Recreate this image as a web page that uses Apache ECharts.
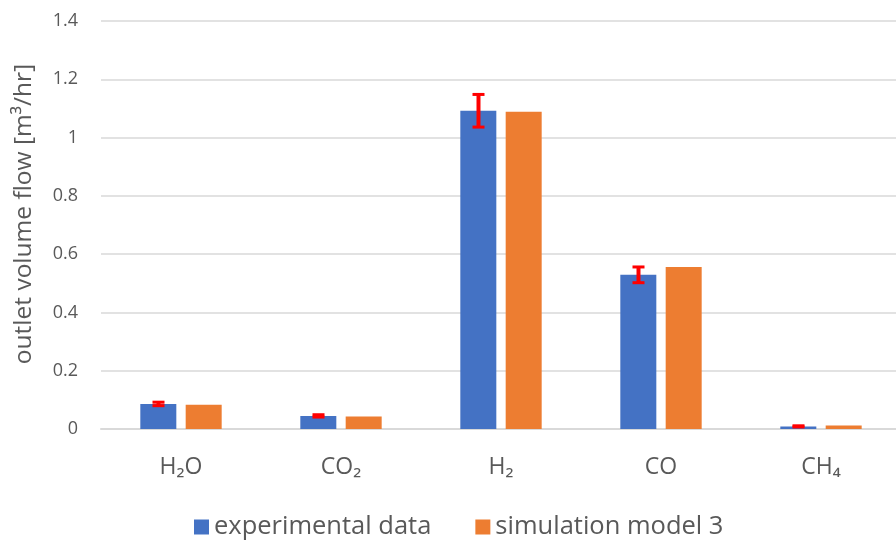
<!DOCTYPE html>
<html><head><meta charset="utf-8">
<script src="https://cdn.jsdelivr.net/npm/echarts@6/dist/echarts.min.js"></script>
<style>html,body{margin:0;padding:0;background:#fff;overflow:hidden;width:896px;height:540px}#c{width:901px;height:540px}</style>
</head><body><div id="c"></div>
<script>
const categories = ['H\u2082O', 'CO\u2082', 'H\u2082', 'CO', 'CH\u2084'];
const experimental = [0.086, 0.045, 1.092, 0.529, 0.009];
const experimentalErr = [0.006, 0.004, 0.056, 0.027, 0.002];
const simulation = [0.083, 0.043, 1.089, 0.556, 0.012];
const yTicks = [0, 0.2, 0.4, 0.6, 0.8, 1, 1.2, 1.4];
const yTitle = 'outlet volume flow [m\u00b3/hr]';

const FONT = 'Open Sans';
const chart = echarts.init(document.getElementById('c'));
const errData = categories.map((c, i) => [i, experimental[i] - experimentalErr[i], experimental[i] + experimentalErr[i]]);
chart.setOption({
  animation: false,
  textStyle: { fontFamily: FONT },
  grid: { left: 101, right: 0, top: 21, bottom: 111 },
  legend: {
    top: 509, left: 189, itemWidth: 15, itemHeight: 15, itemGap: 44,
    icon: 'rect',
    textStyle: { fontSize: 25.5, color: '#595959', fontFamily: FONT },
    data: ['experimental data', 'simulation model 3']
  },
  graphic: [{
    type: 'text', x: 24, y: 214, rotation: Math.PI / 2,
    style: { text: yTitle, fontSize: 24.5, fill: '#595959', fontFamily: FONT,
      textAlign: 'center', textVerticalAlign: 'middle' }
  }],
  xAxis: {
    type: 'category', data: categories,
    axisLine: { lineStyle: { color: '#d9d9d9', width: 2 } },
    axisTick: { show: false },
    axisLabel: { fontSize: 23, color: '#595959', margin: 27, fontFamily: FONT }
  },
  yAxis: {
    type: 'value', min: yTicks[0], max: yTicks[yTicks.length - 1], interval: 0.2,
    axisLine: { show: false }, axisTick: { show: false },
    splitLine: { lineStyle: { color: '#d9d9d9', width: 1.5 } },
    axisLabel: { fontSize: 18, color: '#595959', margin: 23, fontFamily: FONT,
      formatter: v => String(Math.round(v * 10) / 10) }
  },
  series: [
    { name: 'experimental data', type: 'bar', data: experimental, barWidth: 36, barGap: '26%',
      itemStyle: { color: '#4472c4' } },
    { name: 'simulation model 3', type: 'bar', data: simulation, barWidth: 36,
      itemStyle: { color: '#ed7d31' } },
    { type: 'custom', name: 'err', data: errData, z: 10, silent: true,
      renderItem: function (params, api) {
        const x = api.coord([api.value(0), 0])[0];
        const cx = x - 22.5;
        const lo = api.coord([api.value(0), api.value(1)]);
        const hi = api.coord([api.value(0), api.value(2)]);
        const hw = 6;
        const st = { stroke: '#ff0000', lineWidth: 3 };
        return { type: 'group', children: [
          { type: 'line', shape: { x1: cx, y1: hi[1], x2: cx, y2: lo[1] }, style: { stroke: '#ff0000', lineWidth: 4 } },
          { type: 'line', shape: { x1: cx - hw, y1: hi[1], x2: cx + hw, y2: hi[1] }, style: st },
          { type: 'line', shape: { x1: cx - hw, y1: lo[1], x2: cx + hw, y2: lo[1] }, style: st }
        ]};
      }
    }
  ]
});
</script></body></html>
